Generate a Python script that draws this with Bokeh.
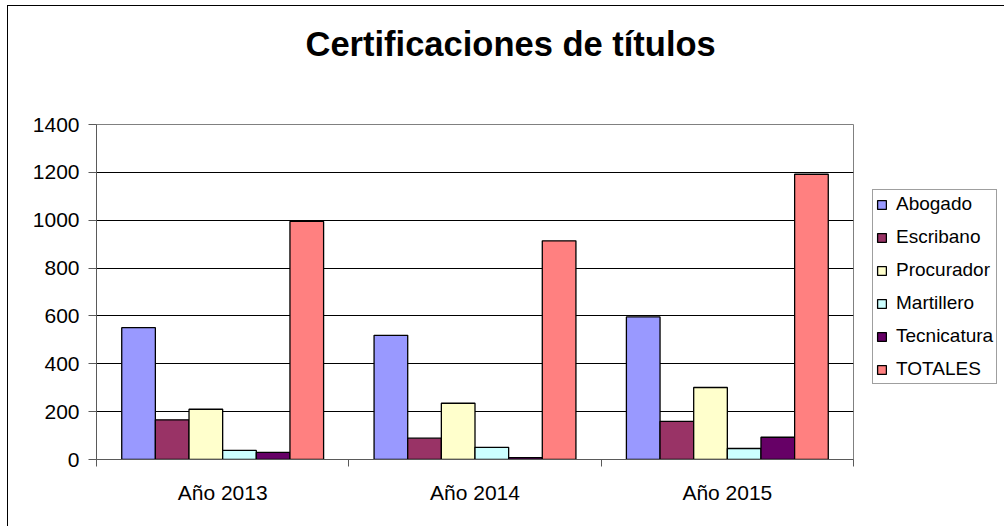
from bokeh.plotting import figure
from bokeh.models import (Range1d, LinearAxis, FixedTicker, Legend, LegendItem,
                          ColumnDataSource, Title)
from bokeh.transform import dodge
from bokeh.embed import file_html
from bokeh.resources import INLINE

years = ["Año 2013", "Año 2014", "Año 2015"]
series = ["Abogado", "Escribano", "Procurador", "Martillero", "Tecnicatura", "TOTALES"]
abogado = [551, 519, 596]
escribano = [166, 89, 159]
procurador = [210, 235, 301]
martillero = [38, 51, 46]
tecnicatura = [30, 8, 93]
totales = [995, 914, 1192]
colors = ["#9999FF", "#993366", "#FFFFCC", "#CCFFFF", "#660066", "#FF8080"]
y_ticks = [0, 200, 400, 600, 800, 1000, 1200, 1400]
title_text = "Certificaciones de títulos"

n = len(years)
centers = [i + 0.5 for i in range(n)]
bounds = [float(i) for i in range(n + 1)]

source = ColumnDataSource(dict(x=centers, Abogado=abogado, Escribano=escribano,
                               Procurador=procurador, Martillero=martillero,
                               Tecnicatura=tecnicatura, TOTALES=totales))

FONT = "Liberation Sans"

p = figure(x_range=Range1d(0, n), y_range=Range1d(0, 1400),
           frame_width=757, frame_height=335, min_border_left=96, min_border_right=151,
           min_border_top=124, min_border_bottom=67,
           x_axis_location=None, y_axis_location=None,
           title_location=None,
           output_backend="svg", toolbar_location=None,
           background_fill_color="white", border_fill_color=None,
           styles={"box-shadow": "inset 7px 5px 0 0 white, inset 8px 6px 0 0 black",
                   "background-color": "white"})

# spacer (nearest the frame), then the visible title above it
spacer = Title(text=" ", text_font_size="1px", standoff=59)
p.add_layout(spacer, "above")
main_title = Title(text=title_text, align="left", offset=209, standoff=0,
                   text_font=FONT, text_font_size="34.5px", text_font_style="bold",
                   text_color="black")
p.add_layout(main_title, "above")

p.outline_line_color = "#808080"
p.outline_line_width = 1
p.xgrid.visible = False
p.ygrid.grid_line_color = "black"
p.ygrid.grid_line_width = 1
p.ygrid.ticker = FixedTicker(ticks=y_ticks)

# y axis
yaxis = LinearAxis(ticker=FixedTicker(ticks=y_ticks), minor_tick_line_color=None,
                   major_tick_out=8, major_tick_in=0, major_label_standoff=9,
                   axis_line_color="#5a5a5a", major_tick_line_color="#5a5a5a",
                   major_label_text_font=FONT, major_label_text_font_size="21px",
                   major_label_text_color="black")
p.add_layout(yaxis, "left")

# separator tick axis (ticks between categories)
sep_axis = LinearAxis(ticker=FixedTicker(ticks=bounds),
                      major_label_overrides={b: "" for b in bounds},
                      major_label_text_font_size="1px", major_label_standoff=0,
                      minor_tick_line_color=None, major_tick_out=7, major_tick_in=0,
                      axis_line_color="#5a5a5a", major_tick_line_color="#5a5a5a")
p.add_layout(sep_axis, "below")

# category labels
cat_axis = LinearAxis(ticker=FixedTicker(ticks=centers),
                      major_label_overrides={c: y for c, y in zip(centers, years)},
                      major_tick_line_color=None, axis_line_color=None,
                      minor_tick_line_color=None,
                      major_tick_out=0, major_tick_in=0, major_label_standoff=14,
                      major_label_text_font=FONT, major_label_text_font_size="21px",
                      major_label_text_color="black")
p.add_layout(cat_axis, "below")

w = 1.0 / 7.5
items = []
for i, (name, col) in enumerate(zip(series, colors)):
    off = (i - 2.5) * w
    r = p.vbar(x=dodge("x", off), top=name, width=w, bottom=0,
               source=source, fill_color=col, line_color="black", line_width=1.3)
    items.append(LegendItem(label=name, renderers=[r]))

legend = Legend(items=items, location=(19, 75), margin=0, padding=3,
                spacing=11, label_height=21, glyph_width=11, glyph_height=11,
                label_standoff=9, label_text_font=FONT, label_text_font_size="19px",
                label_text_color="black", border_line_color="#404040",
                border_line_width=1, background_fill_color="white",
                background_fill_alpha=1.0)
p.add_layout(legend, "right")

open("out.html", "w").write(file_html(p, INLINE))
